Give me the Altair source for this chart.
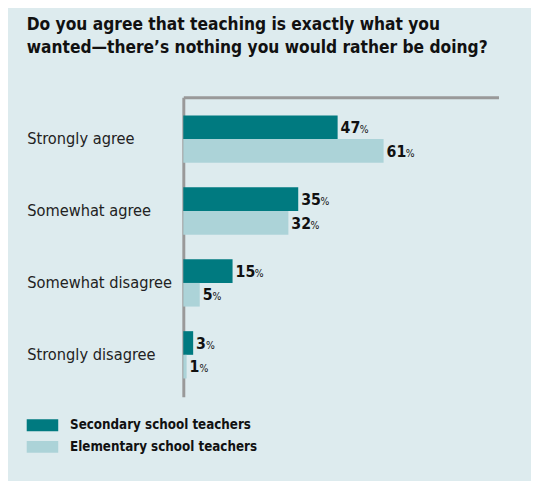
import altair as alt
import pandas as pd

categories = ["Strongly agree", "Somewhat agree", "Somewhat disagree", "Strongly disagree"]
series = ["Secondary school teachers", "Elementary school teachers"]
secondary = [47, 35, 15, 3]
elementary = [61, 32, 5, 1]
colors = ["#007a80", "#acd3d8"]

rows = []
for c, s, e in zip(categories, secondary, elementary):
    rows.append({"cat": c, "series": series[0], "v": s})
    rows.append({"cat": c, "series": series[1], "v": e})
df = pd.DataFrame(rows)

FONT = "DejaVu Sans Condensed, sans-serif"

y = alt.Y("cat:N", sort=categories,
          scale=alt.Scale(paddingInner=0.342, paddingOuter=0.253),
          axis=alt.Axis(title=None, orient="left", ticks=False, tickSize=0,
                        labelAlign="left", labelPadding=159, labelBaseline="middle",
                        labelFont=FONT, labelFontSize=16.5, labelColor="#222",
                        domainColor="#999999", domainWidth=3, grid=False))
yoff = alt.YOffset("series:N", sort=series, scale=alt.Scale(paddingInner=0, paddingOuter=0))
x = alt.X("v:Q", scale=alt.Scale(domain=[0, 96], nice=False),
          axis=alt.Axis(title=None, orient="top", labels=False, ticks=False, grid=False,
                        domainColor="#999999", domainWidth=3))

base = alt.Chart(df)

bars = base.mark_bar(size=24).encode(
    x=x, y=y, yOffset=yoff,
    color=alt.Color("series:N", sort=series,
                    scale=alt.Scale(domain=series, range=colors),
                    legend=alt.Legend(title=None, orient="none", legendX=-159, legendY=325,
                                      symbolType="M-2,-0.75H2V0.75H-2Z", symbolSize=256,
                                      symbolStrokeWidth=0, symbolOffset=8,
                                      labelOffset=20, rowPadding=7, padding=0,
                                      labelFont=FONT, labelFontSize=13.5, labelFontWeight="bold",
                                      labelColor="#111", labelLimit=400)),
)

txt = dict(align="left", baseline="alphabetic", dy=5.8, font=FONT, color="#111")
num2 = base.transform_filter("datum.v >= 10").mark_text(
    dx=3, fontSize=16, fontWeight="bold", **txt
).encode(x=x, y=y, yOffset=yoff, text=alt.Text("v:Q"))
num1 = base.transform_filter("datum.v < 10").mark_text(
    dx=3, fontSize=16, fontWeight="bold", **txt
).encode(x=x, y=y, yOffset=yoff, text=alt.Text("v:Q"))
pct2 = base.transform_filter("datum.v >= 10").mark_text(
    dx=22.5, fontSize=10.5, text="%", **txt
).encode(x=x, y=y, yOffset=yoff)
pct1 = base.transform_filter("datum.v < 10").mark_text(
    dx=13, fontSize=10.5, text="%", **txt
).encode(x=x, y=y, yOffset=yoff)

chart = alt.layer(bars, num2, num1, pct2, pct1).properties(
    width=320, height=304,
    autosize=alt.AutoSizeParams(type="none"),
    padding={"left": 178, "top": 87, "right": 33, "bottom": 82},
    background="#ddebee",
    title=alt.TitleParams(
        ["Do you agree that teaching is exactly what you",
         "wanted\u2014there\u2019s nothing you would rather be doing?"],
        anchor="start", frame="group", dx=-159, offset=41,
        font=FONT, fontSize=17.5, fontWeight="bold", color="#111", lineHeight=23.5),
).configure_view(stroke=None)

chart.save("out.html", embed_options={"renderer": "svg", "actions": False})
